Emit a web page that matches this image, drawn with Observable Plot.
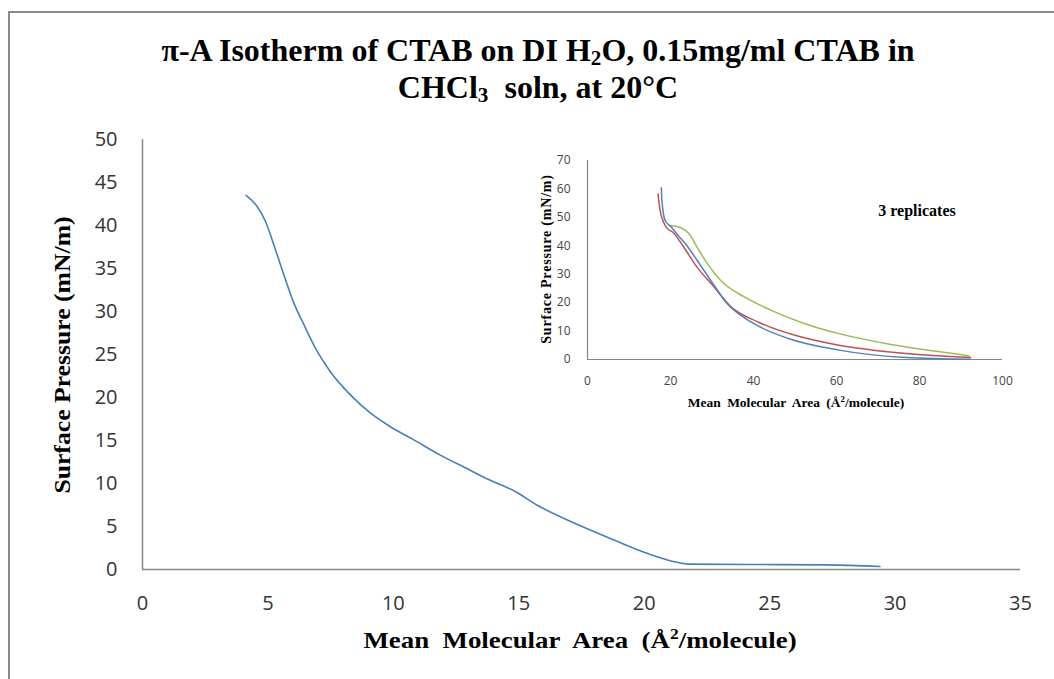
<!DOCTYPE html>
<html>
<head>
<meta charset="utf-8">
<script src="https://cdn.jsdelivr.net/npm/d3@7"></script>
<script src="https://cdn.jsdelivr.net/npm/@observablehq/plot@0.6"></script>
<style>
  html, body { margin: 0; padding: 0; background: #fff; }
  #wrap { position: relative; width: 1054px; height: 679px; overflow: hidden; background: #fff; }
  #frame { position: absolute; left: 8px; top: 11px; width: 1100px; height: 700px;
           border-left: 2px solid #8a8a8a; border-top: 2px solid #8a8a8a; box-sizing: border-box; }
  .serif { font-family: "Liberation Serif", "Times New Roman", serif; font-weight: bold; color: #000; position: absolute; white-space: nowrap; }
  .title { left: 0; width: 1076px; text-align: center; font-size: 32px; line-height: 34px; height: 34px; }
  #title1 { top: 33px; }
  #title2 { top: 70px; }
  .title sub { font-size: 0.66em; line-height: 0; vertical-align: -0.2em; }
  #ytitle { left: 62px; top: 355px; font-size: 24px; transform: translate(-50%, -50%) rotate(-90deg) scaleX(1.07); }
  #xtitle { left: 580px; top: 640px; font-size: 24px; word-spacing: 6px; transform: translate(-50%, -50%) scaleX(1.12); }
  #xtitle sup, #ixtitle sup { font-size: 0.65em; line-height: 0; vertical-align: 0.55em; }
  #iytitle { left: 547px; top: 259px; font-size: 14px; letter-spacing: 0.8px; transform: translate(-50%, -50%) rotate(-90deg); }
  #ixtitle { left: 796px; top: 403px; font-size: 13.5px; word-spacing: 3px; transform: translate(-50%, -50%); }
  #rep { left: 917px; top: 211px; font-size: 16px; transform: translate(-50%, -50%); }
  #main { position: absolute; left: 0; top: 0; }
  #inset { position: absolute; left: 520px; top: 140px; }
</style>
</head>
<body>
<div id="wrap">
  <div id="frame"></div>
  <div id="main"></div>
  <div id="inset"></div>
  <div id="title1" class="serif title">π-A Isotherm of CTAB on DI H<sub>2</sub>O, 0.15mg/ml CTAB in</div>
  <div id="title2" class="serif title">CHCl<sub>3</sub>&nbsp; soln, at 20°C</div>
  <div id="ytitle" class="serif">Surface Pressure (mN/m)</div>
  <div id="xtitle" class="serif">Mean Molecular Area (Å<sup>2</sup>/molecule)</div>
  <div id="iytitle" class="serif">Surface Pressure (mN/m)</div>
  <div id="ixtitle" class="serif">Mean Molecular Area (Å<sup>2</sup>/molecule)</div>
  <div id="rep" class="serif">3 replicates</div>
</div>
<script>
// Main isotherm
const mainArea = [4.13, 4.57, 4.9, 5.23, 5.63, 6.03, 6.43, 6.9, 7.49, 8.29, 9.08, 9.88, 10.8, 11.87, 12.99, 13.73, 14.86, 15.72, 17.05, 18.78, 20.2, 21.3, 21.8, 24.2, 27.3, 29.4];
const mainPressure = [43.5, 42.2, 40.5, 37.8, 34.3, 31.0, 28.5, 25.7, 23.0, 20.3, 18.2, 16.6, 15.1, 13.3, 11.65, 10.55, 9.07, 7.5, 5.6, 3.45, 1.8, 0.85, 0.62, 0.58, 0.54, 0.35];
const mainXTicks = [0, 5, 10, 15, 20, 25, 30, 35];
const mainYTicks = [0, 5, 10, 15, 20, 25, 30, 35, 40, 45, 50];

// Inset: 3 replicates
const blueArea = [17.8, 17.9, 18.7, 20.2, 21.5, 23.6, 26.4, 29.7, 33.7, 39.4, 48.4, 60.6, 76.8, 92.3];
const bluePressure = [60.4, 56.5, 48.9, 46.6, 44.2, 40.7, 34.9, 27.8, 19.6, 13.2, 7.4, 3.3, 0.7, 0.1];
const redArea = [17.0, 17.5, 19.1, 20.7, 23.2, 26.4, 30.5, 34.6, 41.1, 50.0, 60.6, 76.8, 92.3];
const redPressure = [58.2, 52.4, 46.3, 44.6, 39.5, 32.5, 25.5, 18.5, 13.2, 8.5, 5.0, 2.1, 0.7];
const greenArea = [20.2, 21.5, 23.6, 24.8, 26.4, 28.9, 32.1, 37.8, 44.3, 52.4, 60.6, 72.8, 85.0, 91.9];
const greenPressure = [47.1, 46.8, 45.4, 43.6, 39.5, 33.7, 27.8, 22.0, 17.3, 12.6, 9.1, 5.4, 2.7, 1.3];
const insetXTicks = [0, 20, 40, 60, 80, 100];
const insetYTicks = [0, 10, 20, 30, 40, 50, 60, 70];

const toRows = (xs, ys) => xs.map((x, i) => ({x, y: ys[i]}));
const axisGray = "#868686";

const main = Plot.plot({
  width: 1054, height: 679,
  marginLeft: 142, marginRight: 34, marginTop: 139, marginBottom: 110,
  x: {domain: [0, 35]},
  y: {domain: [0, 50]},
  style: {fontFamily: "'Open Sans', sans-serif", fontSize: "20px", color: "#333", background: "transparent"},
  marks: [
    Plot.axisX({ticks: mainXTicks, tickSize: 0, tickPadding: 26, label: null, fontSize: 20}),
    Plot.axisY({ticks: mainYTicks, tickSize: 0, tickPadding: 25, label: null, fontSize: 20}),
    Plot.ruleX([0], {stroke: axisGray, strokeWidth: 1.5}),
    Plot.ruleY([0], {stroke: axisGray, strokeWidth: 1.5}),
    Plot.line(toRows(mainArea, mainPressure), {x: "x", y: "y", stroke: "#4A7EBB", strokeWidth: 1.6, curve: "monotone-x"})
  ]
});
document.getElementById("main").append(main);

const inset = Plot.plot({
  width: 500, height: 280,
  marginLeft: 67, marginRight: 18, marginTop: 20, marginBottom: 61,
  x: {domain: [0, 100]},
  y: {domain: [0, 70]},
  style: {fontFamily: "'Open Sans', sans-serif", fontSize: "12px", color: "#444", background: "transparent"},
  marks: [
    Plot.axisX({ticks: insetXTicks, tickSize: 0, tickPadding: 17, label: null, fontSize: 12}),
    Plot.axisY({ticks: insetYTicks, tickSize: 0, tickPadding: 17, label: null, fontSize: 12}),
    Plot.ruleX([0], {stroke: axisGray, strokeWidth: 1.2}),
    Plot.ruleY([0], {stroke: axisGray, strokeWidth: 1.2}),
    Plot.line(toRows(greenArea, greenPressure), {x: "x", y: "y", stroke: "#9BBB59", strokeWidth: 1.5, curve: "monotone-x"}),
    Plot.line(toRows(redArea, redPressure), {x: "x", y: "y", stroke: "#C0504D", strokeWidth: 1.5, curve: "monotone-x"}),
    Plot.line(toRows(blueArea, bluePressure), {x: "x", y: "y", stroke: "#4F81BD", strokeWidth: 1.5, curve: "monotone-x"})
  ]
});
document.getElementById("inset").append(inset);
</script>
</body>
</html>
